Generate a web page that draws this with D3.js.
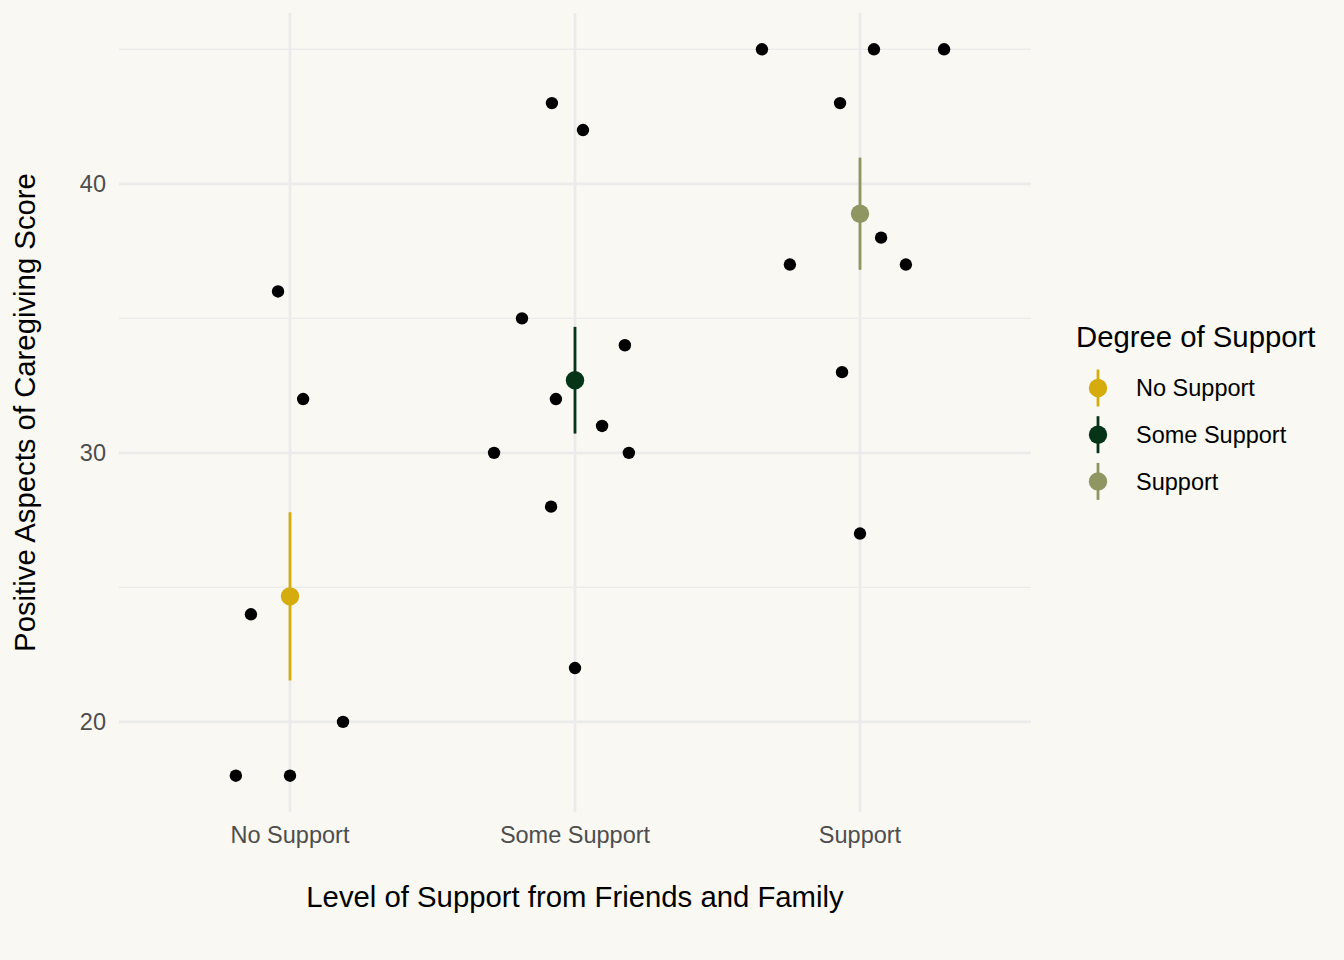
<!DOCTYPE html>
<html>
<head>
<meta charset="utf-8">
<script src="https://cdn.jsdelivr.net/npm/d3@7/dist/d3.min.js"></script>
<style>
  html, body { margin: 0; padding: 0; background: #F9F8F2; }
  svg { display: block; }
  text { font-family: "Liberation Sans", Arial, Helvetica, sans-serif; }
</style>
</head>
<body>
<svg id="chart" width="1344" height="960"></svg>
<script>
// ---- data ----
const categories = ["No Support", "Some Support", "Support"];
const colors = ["#D4AC0D", "#053419", "#8F9661"];

// individual scores per group
const noSupportScores   = [18, 18, 20, 24, 32, 36];
const someSupportScores = [43, 42, 35, 34, 32, 31, 30, 30, 28, 22];
const supportScores     = [45, 45, 45, 43, 38, 37, 37, 33, 27];

// horizontal jitter (in category units)
const noSupportJitter   = [-0.19, 0.0, 0.186, -0.137, 0.046, -0.042];
const someSupportJitter = [-0.081, 0.028, -0.186, 0.175, -0.067, 0.095, -0.284, 0.189, -0.084, 0.0];
const supportJitter     = [-0.344, 0.049, 0.295, -0.070, 0.074, -0.246, 0.161, -0.063, 0.0];

const yTicksMajor = [20, 30, 40];
const yTicksMinor = [25, 35, 45];

const xTitle = "Level of Support from Friends and Family";
const yTitle = "Positive Aspects of Caregiving Score";
const legendTitle = "Degree of Support";

// ---- build ----
const groups = [
  { cat: categories[0], scores: noSupportScores, jitter: noSupportJitter, color: colors[0] },
  { cat: categories[1], scores: someSupportScores, jitter: someSupportJitter, color: colors[1] },
  { cat: categories[2], scores: supportScores, jitter: supportJitter, color: colors[2] }
];
groups.forEach((g, i) => {
  g.idx = i + 1;
  g.mean = d3.mean(g.scores);
  g.se = d3.deviation(g.scores) / Math.sqrt(g.scores.length);
});

const svg = d3.select("#chart");
svg.append("rect").attr("width", 1344).attr("height", 960).attr("fill", "#F9F8F2");

const x = d3.scaleLinear().domain([0.4, 3.6]).range([119, 1031]);
const y = d3.scaleLinear().domain([16.65, 46.35]).range([812, 13]);

const grid = svg.append("g");
grid.selectAll(".minor").data(yTicksMinor).join("line")
  .attr("x1", x.range()[0]).attr("x2", x.range()[1])
  .attr("y1", d => y(d)).attr("y2", d => y(d))
  .attr("stroke", "#EBEBEB").attr("stroke-width", 1.4);
grid.selectAll(".major").data(yTicksMajor).join("line")
  .attr("x1", x.range()[0]).attr("x2", x.range()[1])
  .attr("y1", d => y(d)).attr("y2", d => y(d))
  .attr("stroke", "#EBEBEB").attr("stroke-width", 2.8);
grid.selectAll(".vmajor").data(groups).join("line")
  .attr("x1", d => x(d.idx)).attr("x2", d => x(d.idx))
  .attr("y1", y.range()[0]).attr("y2", y.range()[1])
  .attr("stroke", "#EBEBEB").attr("stroke-width", 2.8);

// y tick labels
svg.append("g").selectAll("text").data(yTicksMajor).join("text")
  .attr("x", 106).attr("y", d => y(d)).attr("dy", "0.35em")
  .attr("text-anchor", "end").attr("font-size", 23.5).attr("fill", "#4D4D4D")
  .text(d => d);

// x tick labels
svg.append("g").selectAll("text").data(groups).join("text")
  .attr("x", d => x(d.idx)).attr("y", 843)
  .attr("text-anchor", "middle").attr("font-size", 23.5).attr("fill", "#4D4D4D")
  .text(d => d.cat);

// axis titles
svg.append("text").attr("x", 575).attr("y", 907)
  .attr("text-anchor", "middle").attr("font-size", 29.3).attr("fill", "#000")
  .text(xTitle);
svg.append("text").attr("transform", "translate(35," + ((y.range()[0] + y.range()[1]) / 2) + ") rotate(-90)")
  .attr("text-anchor", "middle").attr("font-size", 29.3).attr("fill", "#000")
  .text(yTitle);

// error bars + means
const pr = svg.append("g");
pr.selectAll("line").data(groups).join("line")
  .attr("x1", d => x(d.idx)).attr("x2", d => x(d.idx))
  .attr("y1", d => y(d.mean - d.se)).attr("y2", d => y(d.mean + d.se))
  .attr("stroke", d => d.color).attr("stroke-width", 2.8);
pr.selectAll("circle").data(groups).join("circle")
  .attr("cx", d => x(d.idx)).attr("cy", d => y(d.mean)).attr("r", 9.2)
  .attr("fill", d => d.color);

// raw points
const pts = [];
groups.forEach(g => g.scores.forEach((s, i) => pts.push({ x: g.idx + g.jitter[i], y: s })));
svg.append("g").selectAll("circle").data(pts).join("circle")
  .attr("cx", d => x(d.x)).attr("cy", d => y(d.y)).attr("r", 6.2)
  .attr("fill", "#000");

// legend
const lg = svg.append("g");
lg.append("text").attr("x", 1076).attr("y", 347).attr("font-size", 29.3).attr("fill", "#000").text(legendTitle);
const keys = lg.selectAll("g.key").data(groups).join("g")
  .attr("transform", (d, i) => "translate(1098," + (388 + i * 46.7) + ")");
keys.append("line").attr("x1", 0).attr("x2", 0).attr("y1", -18.5).attr("y2", 18.5)
  .attr("stroke", d => d.color).attr("stroke-width", 2.8);
keys.append("circle").attr("r", 9.2).attr("fill", d => d.color);
keys.append("text").attr("x", 38).attr("y", 0).attr("dy", "0.36em")
  .attr("font-size", 23.5).attr("fill", "#000").text(d => d.cat);
</script>
</body>
</html>
